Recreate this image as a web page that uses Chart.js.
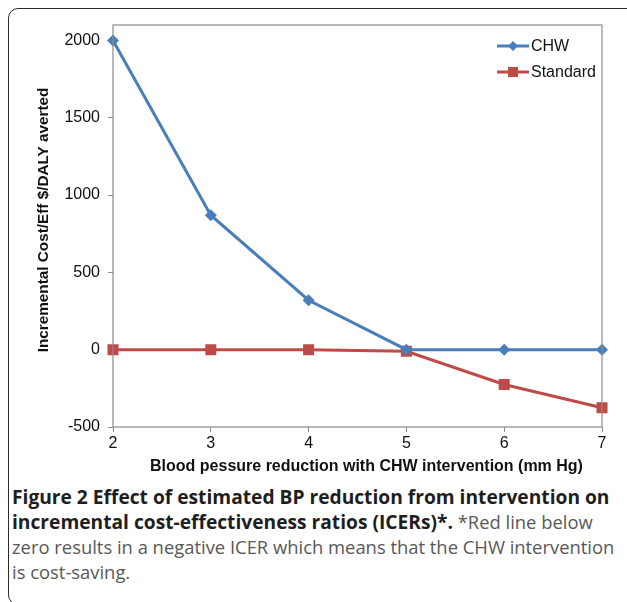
<!DOCTYPE html>
<html>
<head>
<meta charset="utf-8">
<script src="https://cdn.jsdelivr.net/npm/chart.js@4/dist/chart.umd.min.js"></script>
<style>
  html, body { margin: 0; padding: 0; background: #fff; }
  #wrap { position: relative; width: 627px; height: 602px; overflow: hidden; }
  #frame { position: absolute; left: 8px; top: 8px; width: 640px; height: 597px;
           border: 1.6px solid #2b2b2b; border-radius: 10px; box-sizing: border-box; }
  #chartBox { position: absolute; left: 0; top: 0; width: 627px; height: 480px; }
  #caption { position: absolute; left: 12px; top: 484px; width: 612px;
             font-family: "Open Sans", sans-serif; font-size: 18.4px; line-height: 25px;
             color: #585858; white-space: nowrap; }
  #caption b { color: #1e1e1e; font-weight: 700; font-size: 19.2px; }
</style>
</head>
<body>
<div id="wrap">
  <div id="frame"></div>
  <div id="chartBox"><canvas id="c" width="627" height="480"></canvas></div>
  <div id="caption"><b>Figure 2 Effect of estimated BP reduction from intervention on<br>incremental cost-effectiveness ratios (ICERs)*.</b> *Red line below<br>zero results in a negative ICER which means that the CHW intervention<br>is cost-saving.</div>
</div>
<script>
const categories = ['2', '3', '4', '5', '6', '7'];
const chwValues = [2000, 870, 320, 0, 0, 0];
const standardValues = [0, 0, 0, -10, -225, -375];
const yTicks = [-500, 0, 500, 1000, 1500, 2000];
const seriesNames = ['CHW', 'Standard'];
const xTitle = 'Blood pessure reduction with CHW intervention (mm Hg)';
const yTitle = 'Incremental Cost/Eff $/DALY averted';

const BLUE = '#4a7ebb';
const RED = '#be4b48';
const AXIS = '#8c8c8c';
const FONT = '"Liberation Sans", Arial, sans-serif';

const boxPlugin = {
  id: 'box',
  afterDraw(chart) {
    const { ctx, chartArea: a } = chart;
    ctx.save();
    ctx.strokeStyle = AXIS;
    ctx.lineWidth = 1.2;
    ctx.strokeRect(a.left, a.top, a.right - a.left, a.bottom - a.top);
    // axis titles
    ctx.fillStyle = '#111';
    ctx.textAlign = 'center';
    ctx.textBaseline = 'middle';
    ctx.font = 'bold 16px ' + FONT;
    ctx.fillText(xTitle, (a.left + a.right) / 2 + 9, 467);
    ctx.translate(44, (a.top + a.bottom) / 2 - 6);
    ctx.rotate(-Math.PI / 2);
    ctx.font = 'bold 15.3px ' + FONT;
    ctx.fillText(yTitle, 0, 0);
    ctx.restore();
  }
};

const legendPlugin = {
  id: 'customLegend',
  afterDatasetsDraw(chart) {
    const { ctx } = chart;
    const x0 = 497, x1 = 529, ys = [46, 72];
    chart.data.datasets.forEach((ds, i) => {
      const y = ys[i];
      ctx.save();
      ctx.strokeStyle = ds.borderColor;
      ctx.lineWidth = ds.borderWidth;
      ctx.beginPath(); ctx.moveTo(x0, y); ctx.lineTo(x1, y); ctx.stroke();
      ctx.fillStyle = ds.pointBackgroundColor;
      const cx = (x0 + x1) / 2;
      ctx.beginPath();
      if (ds.pointStyle === 'rectRot') {
        const r = 5;
        ctx.moveTo(cx, y - r); ctx.lineTo(cx + r, y); ctx.lineTo(cx, y + r); ctx.lineTo(cx - r, y);
        ctx.closePath(); ctx.fill();
      } else {
        ctx.fillRect(cx - 5, y - 5, 10, 10);
      }
      ctx.fillStyle = '#111';
      ctx.font = '16px ' + FONT;
      ctx.textBaseline = 'middle';
      ctx.textAlign = 'left';
      ctx.fillText(ds.label, x1 + 2, y + 1);
      ctx.restore();
    });
  }
};

new Chart(document.getElementById('c'), {
  type: 'line',
  data: {
    labels: categories,
    datasets: [
      { label: seriesNames[0], data: chwValues, borderColor: BLUE, backgroundColor: BLUE,
        pointBackgroundColor: BLUE, pointBorderColor: BLUE, borderWidth: 3,
        pointStyle: 'rectRot', pointRadius: 6, pointBorderWidth: 0, tension: 0 },
      { label: seriesNames[1], data: standardValues, borderColor: RED, backgroundColor: RED,
        pointBackgroundColor: RED, pointBorderColor: RED, borderWidth: 3,
        pointStyle: 'rect', pointRadius: 7.8, pointBorderWidth: 0, tension: 0 }
    ]
  },
  options: {
    responsive: false,
    animation: false,
    layout: { padding: { left: 0, right: 25, top: 25, bottom: 0 } },
    plugins: { legend: { display: false }, tooltip: { enabled: false } },
    scales: {
      x: {
        type: 'category',
        offset: false,
        border: { display: false },
        grid: { drawOnChartArea: false, color: AXIS, tickLength: 5 },
        ticks: { color: '#111', font: { family: FONT, size: 16 }, padding: 2, maxRotation: 0 },
        title: { display: false, text: xTitle },
        afterFit(scale) { scale.height = 53; }
      },
      y: {
        min: -500,
        max: 2100,
        border: { display: false },
        grid: { drawOnChartArea: false, color: AXIS, tickLength: 5 },
        afterBuildTicks(scale) { scale.ticks = yTicks.map(v => ({ value: v })); },
        ticks: { color: '#111', font: { family: FONT, size: 16 }, padding: 8,
                 callback: (v) => String(v) },
        title: { display: false, text: yTitle },
        afterFit(scale) { scale.width = 113; }
      }
    }
  },
  plugins: [boxPlugin, legendPlugin]
});
</script>
</body>
</html>
